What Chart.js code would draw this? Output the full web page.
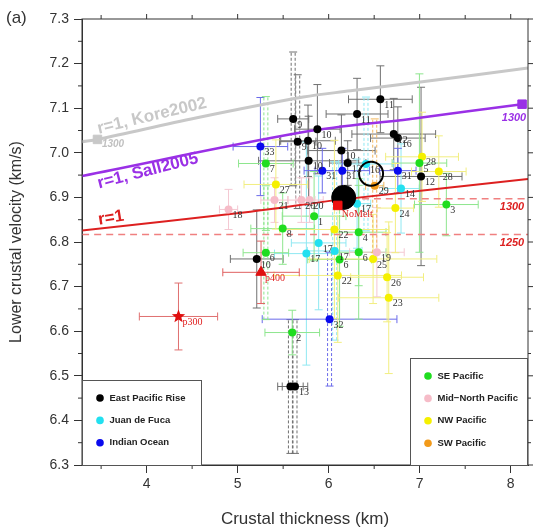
<!DOCTYPE html>
<html>
<head>
<meta charset="utf-8">
<script src="https://cdn.jsdelivr.net/npm/chart.js"></script>
<style>
  html, body { margin: 0; padding: 0; background: #fff; overflow: hidden; }
  #wrap { width: 535px; height: 530px; position: relative; }
</style>
</head>
<body>
<div id="wrap"><canvas id="chart"></canvas></div>
<script>
// axis ranges and ticks
const xRange = [3.29, 8.19];
const yRange = [6.3, 7.3];
const xTicks = [4, 5, 6, 7, 8];
const yTicks = [6.3, 6.4, 6.5, 6.6, 6.7, 6.8, 6.9, 7.0, 7.1, 7.2, 7.3];
const xMinor = [3.5, 4.5, 5.5, 6.5, 7.5];
const yMinor = [6.35, 6.45, 6.55, 6.65, 6.75, 6.85, 6.95, 7.05, 7.15, 7.25];

// rows: [thickness, velocity, thickness err, velocity err, label, dashed bars]
const eastPacificRise = [
    [5.61, 7.076, 0.17, 0.15, '9', true],
    [5.66, 7.025, 0.20, 0.15, '9', true],
    [5.876, 7.053, 0.25, 0.10, '10', false],
    [5.773, 7.027, 0.30, 0.08, '10', false],
    [5.78, 6.982, 0.55, 0.10, '10', false],
    [6.14, 7.005, 0.37, 0.08, '10', false],
    [6.568, 7.12, 0.35, 0.075, '11', false],
    [6.312, 7.087, 0.34, 0.08, '11', false],
    [6.715, 7.042, 0.46, 0.08, '12', false],
    [6.76, 7.033, 0.30, 0.07, '16', false],
    [7.015, 6.947, 0.45, 0.20, '12', false],
    [6.209, 6.977, 0.20, 0.05, '12', false],
    [5.21, 6.762, 0.29, 0.11, '10', false],
    [5.58, 6.476, 0.14, 0.15, '', true],
    [5.63, 6.476, 0.14, 0.15, '13', true]
];
const juanDeFuca = [
    [6.41, 6.975, 0.30, 0.15, '16', true],
    [6.795, 6.92, 0.20, 0.10, '14', false],
    [6.312, 6.886, 0.15, 0.10, '17', false],
    [5.89, 6.798, 0.30, 0.15, '17', false],
    [5.755, 6.774, 0.35, 0.25, '17', false],
    [6.066, 6.78, 0.30, 0.20, '17', true]
];
const indianOcean = [
    [5.25, 7.014, 0.30, 0.11, '33', false],
    [5.93, 6.96, 0.20, 0.05, '31', false],
    [6.15, 6.96, 0.30, 0.05, '31', false],
    [6.76, 6.96, 0.20, 0.05, '31', false],
    [6.01, 6.627, 0.74, 0.15, '32', true]
];
const sePacific = [
    [5.31, 6.976, 0.30, 0.15, '7', true],
    [5.31, 6.776, 0.25, 0.15, '6', true],
    [5.495, 6.83, 0.35, 0.08, '8', false],
    [5.84, 6.858, 0.35, 0.10, '1', false],
    [6.33, 6.822, 0.30, 0.12, '4', false],
    [6.33, 6.777, 0.30, 0.15, '6', false],
    [6.12, 6.761, 0.35, 0.15, '6', false],
    [7.293, 6.884, 0.35, 0.07, '3', false],
    [6.997, 6.977, 0.30, 0.20, '5', false],
    [5.6, 6.597, 0.30, 0.05, '2', false]
];
const midNorthPacific = [
    [4.9, 6.873, 0.10, 0.045, '18', false],
    [5.405, 6.894, 0.15, 0.05, '21', false],
    [5.70, 6.894, 0.15, 0.05, '20', false],
    [5.79, 6.894, 0.15, 0.05, '20', false],
    [6.53, 6.777, 0.30, 0.10, '19', false]
];
const nwPacific = [
    [5.42, 6.929, 0.35, 0.10, '27', false],
    [7.026, 6.991, 0.40, 0.10, '28', false],
    [7.21, 6.958, 0.30, 0.08, '28', false],
    [6.733, 6.876, 0.20, 0.10, '24', false],
    [6.063, 6.828, 0.60, 0.20, '22', false],
    [6.10, 6.725, 0.70, 0.15, '22', false],
    [6.488, 6.762, 0.70, 0.10, '25', false],
    [6.642, 6.721, 0.40, 0.10, '26', false],
    [6.66, 6.675, 0.55, 0.17, '23', false]
];
const swPacific = [
    [6.506, 6.926, 0.10, 0.15, '29', true]
];
const p400 = [[5.257, 6.732, 0.42, 0.07, 'p400', false]];
const p300 = [[4.35, 6.633, 0.43, 0.075, 'p300', false]];
const noMelt = [[6.1, 6.882, 0.05, 0.02, 'NoMelt', false]];
const bigDisc = [[6.165, 6.9]];
const openRing = [[6.466, 6.953]];

// model curves
const kore2002 = [[3.29, 7.025], [3.46, 7.03], [4.54, 7.078], [5.72, 7.125], [6.24, 7.139], [6.9, 7.156], [8.19, 7.19]];
const sall2005 = [[3.29, 6.948], [5.74, 7.047], [6.9, 7.076], [8.125, 7.109]];
const rOne = [[3.29, 6.826], [5.14, 6.868], [6.13, 6.895], [8.19, 6.941]];
const melt1300 = [[6.1, 6.897], [8.19, 6.897]];
const melt1250 = [[3.29, 6.817], [8.19, 6.817]];
const koreEnd = [[3.46, 7.03]];
const sallEnd = [[8.125, 7.109]];

const groupNames = ['East Pacific Rise', 'Juan de Fuca', 'Indian Ocean', 'SE Pacific', 'Mid\u2212North Pacific', 'NW Pacific', 'SW Pacific'];
const groupColors = ['#000000', '#22e0f0', '#0a0aee', '#1fdd1f', '#f6bcc8', '#f5f000', '#f29a1a'];
const barColors = ['#707070', '#8fe8f2', '#6a6aea', '#8ee68e', '#f4c8d2', '#f2ee80', '#f2b860'];
const groups = [eastPacificRise, juanDeFuca, indianOcean, sePacific, midNorthPacific, nwPacific, swPacific];

function toPts(rows) {
    return rows.map(r => ({ x: r[0], y: r[1], xe: r[2], ye: r[3], lbl: r[4], dash: r[5] }));
}
function toXY(rows) {
    return rows.map(r => ({ x: r[0], y: r[1] }));
}

// filled red star marker
const starImg = document.createElement('canvas');
starImg.width = 15; starImg.height = 15;
(function() {
    const c = starImg.getContext('2d');
    c.fillStyle = '#e01010';
    c.beginPath();
    for (let i = 0; i < 10; i++) {
        const r = i % 2 === 0 ? 7 : 3;
        const a = -Math.PI / 2 + i * Math.PI / 5;
        c.lineTo(7.5 + r * Math.cos(a), 7.5 + r * Math.sin(a));
    }
    c.closePath();
    c.fill();
})();

const datasets = [];
function curve(rows, color, width, dash) {
    datasets.push({
        type: 'line', data: toXY(rows), borderColor: color, borderWidth: width,
        borderDash: dash || [], pointRadius: 0, tension: 0.35, fill: false, order: 5
    });
}
curve(kore2002, '#c8c8c8', 3);
curve(sall2005, '#9a30e6', 2.5);
curve(rOne, '#dd2020', 2);
curve(melt1300, '#f08080', 1.5, [7, 5]);
curve(melt1250, '#f08080', 1.5, [7, 5]);
datasets.push({ type: 'scatter', data: toXY(koreEnd), pointStyle: 'rect', pointRadius: 6, backgroundColor: '#c8c8c8', borderColor: '#c8c8c8', order: 4 });
datasets.push({ type: 'scatter', data: toXY(sallEnd), pointStyle: 'rect', pointRadius: 6, backgroundColor: '#9a30e6', borderColor: '#9a30e6', order: 4 });

groups.forEach((g, i) => {
    datasets.push({
        type: 'scatter', data: toPts(g), pointRadius: 4, borderWidth: 0,
        backgroundColor: groupColors[i], borderColor: groupColors[i],
        barColor: barColors[i], order: 3
    });
});
datasets.push({ type: 'scatter', data: toXY(bigDisc), pointRadius: 12, backgroundColor: '#000', borderColor: '#000', order: 2 });
datasets.push({ type: 'scatter', data: toXY(openRing), pointRadius: 12, backgroundColor: 'rgba(0,0,0,0)', borderColor: '#000', borderWidth: 2, order: 2 });
datasets.push({ type: 'scatter', data: toPts(p400), pointStyle: 'triangle', pointRadius: 6, backgroundColor: '#e01010', borderColor: '#e01010', barColor: '#e06060', labelColor: '#e02020', order: 1 });
datasets.push({ type: 'scatter', data: toPts(p300), pointStyle: starImg, backgroundColor: '#e01010', barColor: '#e07070', labelColor: '#e02020', order: 1 });
datasets.push({ type: 'scatter', data: toPts(noMelt), pointStyle: 'rect', pointRadius: 6, backgroundColor: '#ee1010', borderColor: '#ee1010', barColor: '#ffffff', labelColor: '#e02020', labelBelow: true, order: 1 });

// error bars under the markers
const errorBars = {
    id: 'errorBars',
    beforeDatasetsDraw(chart) {
        const ctx = chart.ctx, xs = chart.scales.x, ys = chart.scales.y, a = chart.chartArea;
        ctx.save();
        ctx.beginPath();
        ctx.rect(a.left, a.top, a.right - a.left, a.bottom - a.top);
        ctx.clip();
        ctx.lineWidth = 1;
        chart.data.datasets.forEach(ds => {
            if (!ds.barColor) return;
            ctx.strokeStyle = ds.barColor;
            ds.data.forEach(p => {
                const px = xs.getPixelForValue(p.x), py = ys.getPixelForValue(p.y);
                const x0 = xs.getPixelForValue(p.x - p.xe), x1 = xs.getPixelForValue(p.x + p.xe);
                const y0 = ys.getPixelForValue(p.y - p.ye), y1 = ys.getPixelForValue(p.y + p.ye);
                ctx.setLineDash([]);
                ctx.beginPath();
                ctx.moveTo(x0, py); ctx.lineTo(x1, py);
                ctx.moveTo(x0, py - 4); ctx.lineTo(x0, py + 4);
                ctx.moveTo(x1, py - 4); ctx.lineTo(x1, py + 4);
                ctx.moveTo(px - 4, y0); ctx.lineTo(px + 4, y0);
                ctx.moveTo(px - 4, y1); ctx.lineTo(px + 4, y1);
                ctx.stroke();
                ctx.beginPath();
                if (p.dash) {
                    ctx.setLineDash([3, 2]);
                    ctx.moveTo(px - 2, y0); ctx.lineTo(px - 2, y1);
                    ctx.moveTo(px + 2, y0); ctx.lineTo(px + 2, y1);
                } else {
                    ctx.moveTo(px, y0); ctx.lineTo(px, y1);
                }
                ctx.stroke();
            });
        });
        ctx.restore();
    },
    afterDatasetsDraw(chart) {
        const ctx = chart.ctx;
        ctx.save();
        ctx.font = '10px "Liberation Serif"';
        ctx.textBaseline = 'middle';
        chart.data.datasets.forEach((ds, i) => {
            if (!ds.barColor) return;
            const meta = chart.getDatasetMeta(i);
            ctx.fillStyle = ds.labelColor || '#333';
            ds.data.forEach((p, j) => {
                if (!p.lbl) return;
                const el = meta.data[j];
                if (ds.labelBelow) ctx.fillText(p.lbl, el.x + 4, el.y + 9);
                else ctx.fillText(p.lbl, el.x + 4, el.y + 6);
            });
        });

        // model annotations
        const tilt = (txt, x, y, ang, color, font) => {
            ctx.save();
            ctx.translate(x, y);
            ctx.rotate(ang * Math.PI / 180);
            ctx.font = font;
            ctx.fillStyle = color;
            ctx.textAlign = 'center';
            ctx.fillText(txt, 0, 0);
            ctx.restore();
        };
        tilt('r=1, Kore2002', 152, 116, -13.5, '#c8c8c8', 'bold 17px "Liberation Sans"');
        tilt('r=1, Sall2005', 148, 171, -14.5, '#9a30e6', 'bold 17px "Liberation Sans"');
        tilt('r=1', 111, 218, -9, '#dd2020', 'bold 17px "Liberation Sans"');
        tilt('1300', 113, 144, 0, '#c0c0c0', 'italic bold 10px "Liberation Sans"');
        tilt('1300', 514, 118, 0, '#9a30e6', 'italic bold 11px "Liberation Sans"');
        tilt('1300', 512, 207, 0, '#dd2020', 'italic bold 11px "Liberation Sans"');
        tilt('1250', 512, 243, 0, '#dd2020', 'italic bold 11px "Liberation Sans"');
        ctx.restore();
    },
    afterDraw(chart) {
        const ctx = chart.ctx, xs = chart.scales.x, ys = chart.scales.y, a = chart.chartArea;
        ctx.save();
        ctx.strokeStyle = '#333';
        ctx.lineWidth = 1;
        ctx.strokeRect(a.left, a.top, a.right - a.left, a.bottom - a.top);
        ctx.beginPath();
        xMinor.forEach(v => {
            const px = xs.getPixelForValue(v);
            ctx.moveTo(px, a.bottom); ctx.lineTo(px, a.bottom + 4);
            ctx.moveTo(px, a.top); ctx.lineTo(px, a.top - 4);
        });
        xTicks.forEach(v => {
            const px = xs.getPixelForValue(v);
            ctx.moveTo(px, a.top); ctx.lineTo(px, a.top - 5);
        });
        yMinor.forEach(v => {
            const py = ys.getPixelForValue(v);
            ctx.moveTo(a.left, py); ctx.lineTo(a.left - 4, py);
            ctx.moveTo(a.right, py); ctx.lineTo(a.right + 3, py);
        });
        yTicks.forEach(v => {
            const py = ys.getPixelForValue(v);
            ctx.moveTo(a.right, py); ctx.lineTo(a.right + 5, py);
        });
        ctx.stroke();

        // the two legend boxes
        const box = (x0, y0, x1, y1, idx) => {
            ctx.fillStyle = '#fff';
            ctx.fillRect(x0, y0, x1 - x0, y1 - y0);
            ctx.strokeStyle = '#555';
            ctx.strokeRect(x0 + 0.5, y0 + 0.5, x1 - x0, y1 - y0);
            ctx.font = 'bold 9.5px "Liberation Sans"';
            ctx.textBaseline = 'middle';
            idx.forEach((g, k) => {
                const cy = y0 + 18 + k * 22.4;
                ctx.fillStyle = groupColors[g];
                ctx.beginPath();
                ctx.arc(x0 + 18, cy, 3.8, 0, Math.PI * 2);
                ctx.fill();
                ctx.fillStyle = '#222';
                ctx.fillText(groupNames[g], x0 + 27.5, cy);
            });
        };
        box(a.left, 380, 201, a.bottom, [0, 1, 2]);
        box(410, 358, a.right - 1, a.bottom, [3, 4, 5, 6]);

        ctx.fillStyle = '#333';
        ctx.font = '17px "Liberation Sans"';
        ctx.textBaseline = 'middle';
        ctx.fillText('(a)', 6, 18);
        ctx.restore();
    }
};

new Chart(document.getElementById('chart'), {
    type: 'scatter',
    data: { datasets: datasets },
    options: {
        responsive: true,
        maintainAspectRatio: false,
        animation: false,
        layout: { autoPadding: false, padding: { top: 19, right: 7, left: 0, bottom: 0 } },
        plugins: { legend: { display: false }, tooltip: { enabled: false } },
        scales: {
            x: {
                type: 'linear', min: xRange[0], max: xRange[1],
                afterBuildTicks: s => { s.ticks = xTicks.map(v => ({ value: v })); },
                afterFit: s => { s.height = 65; s.paddingLeft = 0; s.paddingRight = 0; },
                grid: { drawOnChartArea: false, drawTicks: true, tickLength: 8, color: '#333' },
                border: { display: true, color: '#333' },
                ticks: { color: '#333', padding: 3, font: { family: 'Liberation Sans', size: 14 } },
                title: { display: true, text: 'Crustal thickness (km)', color: '#333', padding: { top: 4, bottom: 0 }, font: { family: 'Liberation Sans', size: 17 } }
            },
            y: {
                type: 'linear', min: yRange[0], max: yRange[1],
                afterBuildTicks: s => { s.ticks = yTicks.map(v => ({ value: v })); },
                afterFit: s => { s.width = 82; s.paddingTop = 0; s.paddingBottom = 0; },
                grid: { drawOnChartArea: false, drawTicks: true, tickLength: 8, color: '#333' },
                border: { display: true, color: '#333' },
                ticks: { color: '#333', padding: 5, font: { family: 'Liberation Sans', size: 14 }, callback: v => v.toFixed(1) },
                title: { display: true, text: 'Lower crustal velocity (km/s)', color: '#333', padding: { top: 7, bottom: 4 }, font: { family: 'Liberation Sans', size: 16 } }
            }
        }
    },
    plugins: [errorBars]
});
</script>
</body>
</html>
